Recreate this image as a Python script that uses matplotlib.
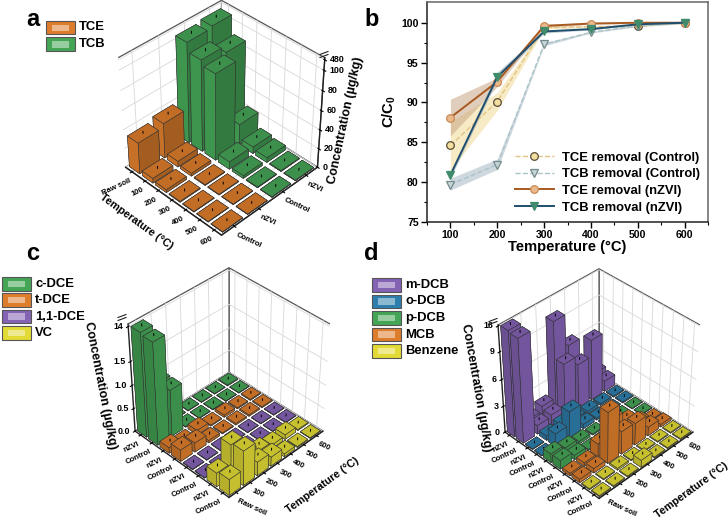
import matplotlib
matplotlib.use('Agg')
import matplotlib.pyplot as plt
from matplotlib.colors import LightSource
from matplotlib.patches import Rectangle
from matplotlib.lines import Line2D
from mpl_toolkits.mplot3d import proj3d
import numpy as np

plt.rcParams['font.family'] = ['Liberation Sans', 'DejaVu Sans']
plt.rcParams['font.weight'] = 'bold'
plt.rcParams['mathtext.fontset'] = 'custom'
plt.rcParams['mathtext.bf'] = 'Liberation Sans:bold'

W, H = 728, 520

temps3d = ['Raw soil', '100', '200', '300', '400', '500', '600']
rows_a = ['Control', 'nZVI', 'Control', 'nZVI']
rows_long = ['Control', 'nZVI'] * 4
rows_d = ['Control', 'nZVI'] * 5

# panel a, ug/kg
tce_ctrl_a = [33, 5, 3, 0.8, 0.6, 0.5, 0.4]
tce_nzvi_a = [37, 6, 3, 0.8, 0.6, 0.5, 0.4]
tcb_ctrl_a = [420, 95, 90, 8, 3, 0.8, 0.5]
tcb_nzvi_a = [440, 88, 22, 7, 5, 0.8, 0.5]

# panel c, ug/kg
vc_ctrl = [0.35, 0.75, 0.30, 0.20, 0.06, 0.02, 0.01]
vc_nzvi = [0.30, 0.70, 0.30, 0.15, 0.08, 0.10, 0.02]
dce11_ctrl = [0.01, 0.01, 0.01, 0.01, 0.01, 0.01, 0.01]
dce11_nzvi = [0.01, 0.01, 0.01, 0.01, 0.01, 0.01, 0.01]
tdce_ctrl = [0.25, 0.20, 0.05, 0.02, 0.03, 0.03, 0.02]
tdce_nzvi = [0.12, 0.03, 0.10, 0.02, 0.05, 0.02, 0.02]
cdce_ctrl = [13.6, 1.0, 0.01, 0.01, 0.01, 0.01, 0.01]
cdce_nzvi = [14.0, 1.0, 0.01, 0.01, 0.01, 0.01, 0.02]

# panel d, ug/kg
benz_ctrl = [0.10, 0.10, 0.10, 0.80, 0.10, 0.10, 0.10]
benz_nzvi = [0.10, 0.10, 0.20, 0.10, 0.10, 0.10, 0.10]
mcb_ctrl = [0.40, 0.50, 5.80, 2.60, 2.50, 1.00, 0.30]
mcb_nzvi = [0.30, 0.40, 1.50, 3.20, 2.00, 0.80, 0.10]
pdcb_ctrl = [1.00, 0.50, 0.10, 0.10, 0.10, 0.05, 0.05]
pdcb_nzvi = [1.00, 0.60, 0.30, 0.10, 0.10, 0.05, 0.05]
odcb_ctrl = [0.05, 1.50, 3.00, 0.50, 0.20, 0.10, 0.10]
odcb_nzvi = [0.05, 0.50, 0.80, 0.40, 0.30, 0.20, 0.10]
mdcb_ctrl = [15.5, 1.00, 1.20, 6.00, 5.00, 6.80, 1.20]
mdcb_nzvi = [16.0, 1.00, 1.50, 10.0, 6.50, 3.00, 1.50]

# panel b
t_line = [100, 200, 300, 400, 500, 600]
tce_removal_ctrl = [84.6, 90.1, 99.4, 99.5, 99.6, 100]
tcb_removal_ctrl = [79.7, 82.2, 97.3, 98.8, 99.6, 100]
tce_removal_nzvi = [88.1, 92.6, 99.6, 99.9, 100, 100]
tcb_removal_nzvi = [80.9, 93.2, 98.9, 99.2, 99.8, 100]
tce_ctrl_lo = [81.5, 89.0, 99.2, 99.4, 99.5, 99.9]
tce_ctrl_hi = [87.6, 91.2, 99.6, 99.6, 99.7, 100]
tcb_ctrl_lo = [79.0, 81.6, 97.1, 98.7, 99.5, 99.9]
tcb_ctrl_hi = [80.5, 82.9, 97.5, 98.9, 99.7, 100]
tce_nzvi_lo = [85.8, 92.0, 99.4, 99.8, 99.9, 99.9]
tce_nzvi_hi = [90.4, 93.1, 99.8, 100, 100, 100]
tcb_nzvi_lo = [80.5, 92.8, 98.7, 99.1, 99.7, 99.9]
tcb_nzvi_hi = [81.3, 93.8, 99.1, 99.3, 99.9, 100]

ORANGE = '#dd7d2c'
GREEN = '#45a556'
PURPLE = '#8462b4'
BLUE = '#2e7fae'
YELLOW = '#e2da35'


def px(x, y):
    return x / W, 1 - y / H


def rect_at(cx, cy):
    return [(cx - 182) / W, 1 - (cy + 130) / H, 364 / W, 260 / H]


def break_a(v):
    return v if v <= 100 else 102 + (v - 400) / 80 * 8


def break_c(v):
    return v if v <= 2 else 2 + (v - 12) / 2 * 0.2


def break_d(v):
    return v if v <= 11 else 11 + (v - 14) / 2 * 0.7


def panel(rect, rows, colors, labels, brk, azim, elev, zticks, zmax, zoom, boxz, focal):
    ax = fig.add_axes(rect, projection='3d', computed_zorder=False)
    ax.patch.set_alpha(0)
    nx, ny = 7, len(rows)
    ax.set_xlim(0, nx)
    ax.set_ylim(0, ny)
    ax.set_zlim(0, zmax)
    ax.view_init(elev=elev, azim=azim)
    ax.set_proj_type('persp', focal_length=focal)
    ax.set_box_aspect((1, 1, boxz), zoom=zoom)
    for axis in (ax.xaxis, ax.yaxis, ax.zaxis):
        axis.set_pane_color((1, 1, 1, 1))
        axis.pane.set_edgecolor('#555555')
        axis.pane.set_linewidth(0.9)
        axis._axinfo['grid']['color'] = '#d8d8d8'
        axis._axinfo['grid']['linewidth'] = 0.6
        axis.line.set_color('#222222')
        axis.line.set_linewidth(1.0)
    ax.set_xticks(np.arange(nx) + 0.5)
    ax.set_xticklabels(temps3d, fontsize=5.6)
    ax.set_yticks(np.arange(ny) + 0.5)
    ax.set_yticklabels(labels, fontsize=5.6)
    ax.set_zticks(zticks)
    ax.set_zticklabels([''] * len(zticks))
    front_x = azim > -90
    for t in ax.get_xticklabels():
        t.set_rotation(25 if front_x else -25)
        t.set_ha('right' if front_x else 'left')
        t.set_rotation_mode('anchor')
    for t in ax.get_yticklabels():
        t.set_rotation(-25 if front_x else 25)
        t.set_ha('left' if front_x else 'right')
        t.set_rotation_mode('anchor')
    ax.tick_params(axis='x', pad=-5)
    ax.tick_params(axis='y', pad=-5)
    light = LightSource(azdeg=160 if front_x else 215, altdeg=40)
    sx = 1 if front_x else -1
    cells = [(i, j) for i in range(nx) for j in range(ny)]
    cells.sort(key=lambda c: sx * c[0] - c[1])
    for n, (i, j) in enumerate(cells):
        h = max(brk(rows[j][i]), zmax * 0.004)
        col = ax.bar3d(i + 0.1, j + 0.1, 0, 0.8, 0.8, h, color=colors[j],
                       edgecolor='#333333', linewidth=0.35, shade=True, lightsource=light)
        col.set_zorder(10 + 2 * n)
        ln, = ax.plot([i + 0.5, i + 0.5], [j + 0.5, j + 0.5], [h, h + zmax * 0.018],
                      color='black', lw=0.7)
        ln.set_zorder(11 + 2 * n)
    return ax


def ztext(ax, zticks, zlabels, corner, off, ha):
    # place z tick labels at the outer vertical edge, in figure coords
    for z, s in zip(zticks, zlabels):
        xp, yp, _ = proj3d.proj_transform(corner[0], corner[1], z, ax.get_proj())
        dx, dy = ax.transData.transform((xp, yp))
        fx, fy = fig.transFigure.inverted().transform((dx + off, dy))
        fig.text(fx, fy, s, fontsize=6.4, ha=ha, va='center')


fig = plt.figure(figsize=(7.28, 5.2), dpi=100)

zt_a = [0, 20, 40, 60, 80, 100, 110]
zl_a = ['0', '20', '40', '60', '80', '100', '480']
zt_c = [0, 0.5, 1.0, 1.5, 2.2]
zl_c = ['0.0', '0.5', '1.0', '1.5', '14']
zt_d = [0, 3, 6, 9, 11.7]
zl_d = ['0', '3', '6', '9', '16']

# a
ax_a = panel(rect_at(218, 118), [tce_ctrl_a, tce_nzvi_a, tcb_ctrl_a, tcb_nzvi_a],
             [ORANGE, ORANGE, GREEN, GREEN], rows_a, break_a, -45, 39, zt_a,
             112, 0.91, 1.0, 0.85)
ax_a.zaxis.set_ticks_position('upper')

# c
ax_c = panel(rect_at(225.5, 383),
             [vc_ctrl, vc_nzvi, dce11_ctrl, dce11_nzvi, tdce_ctrl, tdce_nzvi, cdce_ctrl, cdce_nzvi],
             [YELLOW, YELLOW, PURPLE, PURPLE, ORANGE, ORANGE, GREEN, GREEN], rows_long, break_c,
             -135, 39, zt_c, 2.25, 0.89, 1.0, 0.85)

# d
ax_d = panel(rect_at(595.5, 384),
             [benz_ctrl, benz_nzvi, mcb_ctrl, mcb_nzvi, pdcb_ctrl, pdcb_nzvi,
              odcb_ctrl, odcb_nzvi, mdcb_ctrl, mdcb_nzvi],
             [YELLOW, YELLOW, ORANGE, ORANGE, GREEN, GREEN, BLUE, BLUE, PURPLE, PURPLE], rows_d,
             break_d, -135, 39, zt_d, 11.8, 0.89, 1.0, 0.85)

fig.canvas.draw()
ztext(ax_a, zt_a, zl_a, (7, 4), 5, 'left')
ztext(ax_c, zt_c, zl_c, (0, 8), -5, 'right')
ztext(ax_d, zt_d, zl_d, (0, 10), -5, 'right')

# b
ax = fig.add_axes([427 / W, 1 - 222 / H, 281 / W, 220 / H])
ax.fill_between(t_line, tce_ctrl_lo, tce_ctrl_hi, color='#f0d98c', alpha=0.5, lw=0)
ax.fill_between(t_line, tcb_ctrl_lo, tcb_ctrl_hi, color='#a9b8c4', alpha=0.55, lw=0)
ax.fill_between(t_line, tce_nzvi_lo, tce_nzvi_hi, color='#c9a583', alpha=0.55, lw=0)
ax.fill_between(t_line, tcb_nzvi_lo, tcb_nzvi_hi, color='#9fb2b8', alpha=0.6, lw=0)
ax.plot(t_line, tce_removal_ctrl, '--o', color='#e3c486', lw=1.0, ms=5.5, mfc='#f3df9f', mec='#5a4a38',
        mew=0.9, label='TCE removal (Control)')
ax.plot(t_line, tcb_removal_ctrl, '--v', color='#a9c4c8', lw=1.0, ms=6, mfc='#c6d6d6', mec='#75898c',
        mew=0.9, label='TCB removal (Control)')
ax.plot(t_line, tce_removal_nzvi, '-o', color='#a85a20', lw=1.4, ms=5.5, mfc='#eab98c', mec='#c98a55',
        mew=0.9, label='TCE removal (nZVI)')
ax.plot(t_line, tcb_removal_nzvi, '-v', color='#1f4e6e', lw=1.4, ms=6, mfc='#3f8b6c', mec='#3f8b6c',
        mew=0.9, label='TCB removal (nZVI)')
ax.set_xlim(51, 650)
ax.set_ylim(75, 102.6)
ax.set_xticks([100, 200, 300, 400, 500, 600])
ax.set_xticks(np.arange(50, 651, 50), minor=True)
ax.set_yticks([75, 80, 85, 90, 95, 100])
ax.set_yticks(np.arange(75, 101, 2.5), minor=True)
ax.tick_params(axis='both', which='major', labelsize=7.6, length=4, width=1, pad=2)
ax.tick_params(axis='both', which='minor', length=2, width=0.8)
for s in ax.spines.values():
    s.set_linewidth(1.1)
    s.set_color('#222222')
ax.spines['top'].set_color('#666666')
ax.spines['right'].set_color('#666666')
ax.set_xlabel('Temperature (°C)', fontsize=10.6, fontweight='bold', labelpad=0)
ax.set_ylabel(r'$\mathbf{C/C_0}$', fontsize=10.6, labelpad=2)
ax.legend(loc='lower right', frameon=False, fontsize=9.4, labelspacing=0.34, handlelength=3.0,
          handletextpad=0.6, bbox_to_anchor=(1.0, 0.0), borderaxespad=0.25)

# labels of the 3d panels
labels = [
    (26, 19, 'a'), (364, 19, 'b'), (26, 253, 'c'), (364, 253, 'd'),
]
for x, y, s in labels:
    fig.text(*px(x, y), s, fontsize=17, fontweight='bold', ha='left', va='center')

fig.text(*px(136, 222), 'Temperature (°C)', rotation=-36, fontsize=7.8, ha='center', va='center')
fig.text(*px(346, 120), 'Concentration (µg/kg)', rotation=78, fontsize=9.0, ha='center', va='center')
fig.text(*px(322, 485), 'Temperature (°C)', rotation=36, fontsize=7.8, ha='center', va='center')
fig.text(*px(100, 385), 'Concentration (µg/kg)', rotation=-79, fontsize=9.0, ha='center', va='center')
fig.text(*px(691, 490), 'Temperature (°C)', rotation=36, fontsize=7.8, ha='center', va='center')
fig.text(*px(476, 388), 'Concentration (µg/kg)', rotation=-80, fontsize=9.0, ha='center', va='center')


def swatch(x, y, w, h, color, text):
    fig.add_artist(Rectangle(px(x, y + h), w / W, h / H, transform=fig.transFigure,
                             fc=color, ec='#555555', lw=0.8))
    fig.add_artist(Rectangle(px(x + 6, y + h - 3.5), (w - 12) / W, (h - 7) / H, transform=fig.transFigure,
                             fc='white', alpha=0.45, lw=0))
    fig.text(*px(x + w + 4, y + h / 2), text, fontsize=9.4, fontweight='bold', ha='left', va='center')


swatch(46, 21, 29, 13, ORANGE, 'TCE')
swatch(46, 37, 29, 14, GREEN, 'TCB')
for k, (c, s) in enumerate(zip([GREEN, ORANGE, PURPLE, YELLOW], ['c-DCE', 't-DCE', '1,1-DCE', 'VC'])):
    swatch(2, 277 + k * 16.4, 29, 13.5, c, s)
for k, (c, s) in enumerate(zip([PURPLE, BLUE, GREEN, ORANGE, YELLOW],
                               ['m-DCB', 'o-DCB', 'p-DCB', 'MCB', 'Benzene'])):
    swatch(372, 278 + k * 16.6, 29, 13.5, c, s)

# axis break marks
for (x, y) in [(324, 53), (122, 316), (493, 320)]:
    for dy in (0, 3):
        fig.add_artist(Line2D([(x - 4) / W, (x + 4) / W], [1 - (y + dy + 1.5) / H, 1 - (y + dy - 1.5) / H],
                              color='#222222', lw=0.8))

fig.savefig('out.png', dpi=100)
